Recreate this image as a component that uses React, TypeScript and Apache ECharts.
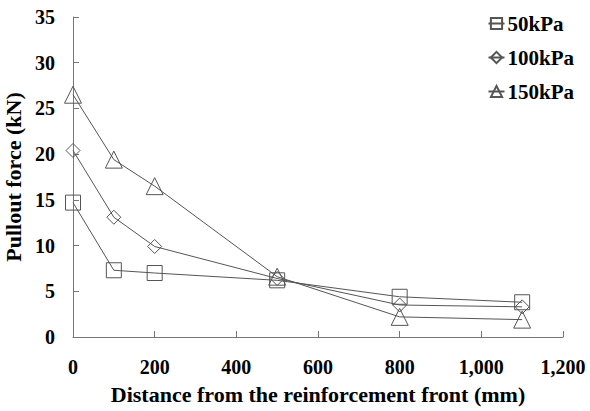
import React, { useEffect, useRef } from "react";
import * as echarts from "echarts";

const distances = [0, 100, 200, 500, 800, 1100];
const kpa50 = [14.7, 7.3, 7.0, 6.2, 4.4, 3.8];
const kpa100 = [20.4, 13.1, 9.9, 6.4, 3.5, 3.3];
const kpa150 = [26.5, 19.4, 16.5, 6.6, 2.2, 1.9];
const seriesNames = ["50kPa", "100kPa", "150kPa"];
const symbols = ["rect", "diamond", "triangle"];

const FONT = "'Liberation Serif', 'Times New Roman', serif";
const GREY = "#555";

export default function App() {
  const ref = useRef<HTMLDivElement>(null);
  useEffect(() => {
    if (!ref.current) return;
    const chart = echarts.init(ref.current, null, { renderer: "svg" });
    const datasets = [kpa50, kpa100, kpa150];
    const sizes = [15, 14, 17];
    chart.setOption({
      animation: false,
      backgroundColor: "#fff",
      grid: { left: 73, right: 27, top: 17, bottom: 74, containLabel: false, outerBoundsMode: "none" },
      legend: {
        right: 11,
        top: 8,
        orient: "vertical",
        itemGap: 13,
        itemWidth: 16,
        itemHeight: 14,
        textStyle: { fontFamily: FONT, fontWeight: "bold", fontSize: 21, color: "#000", padding: [0, 0, 0, -2] },
        data: seriesNames,
      },
      xAxis: {
        type: "value",
        min: 0,
        max: 1200,
        interval: 200,
        name: "Distance from the reinforcement front (mm)",
        nameLocation: "middle",
        nameGap: 46,
        nameTextStyle: { fontFamily: FONT, fontWeight: "bold", fontSize: 22, color: "#000" },
        axisLine: { lineStyle: { color: "#777" } },
        axisTick: { inside: true, length: 6, lineStyle: { color: "#777" } },
        axisLabel: {
          fontFamily: FONT,
          fontWeight: "bold",
          fontSize: 20,
          color: "#000",
          margin: 20,
          formatter: (v: number) => v.toLocaleString("en-US"),
        },
        splitLine: { show: false },
      },
      yAxis: {
        type: "value",
        min: 0,
        max: 35,
        interval: 5,
        name: "Pullout force (kN)",
        nameLocation: "middle",
        nameGap: 41,
        nameTextStyle: { fontFamily: FONT, fontWeight: "bold", fontSize: 22, color: "#000" },
        axisLine: { show: true, lineStyle: { color: "#777" } },
        axisTick: { show: true, inside: true, length: 6, lineStyle: { color: "#777" } },
        axisLabel: { fontFamily: FONT, fontWeight: "bold", fontSize: 20, color: "#000", margin: 18 },
        splitLine: { show: false },
      },
      series: datasets.map((d, i) => ({
        name: seriesNames[i],
        type: "line",
        data: d.map((v, j) => [distances[j], v]),
        symbol: symbols[i],
        symbolSize: sizes[i],
        showAllSymbol: true,
        lineStyle: { color: GREY, width: 1 },
        itemStyle: { color: "rgba(255,255,255,0)", borderColor: GREY, borderWidth: 1 },
      })),
    });
    return () => chart.dispose();
  }, []);
  return <div ref={ref} style={{ width: 590, height: 411, position: "absolute", left: 0, top: 0 }} />;
}
